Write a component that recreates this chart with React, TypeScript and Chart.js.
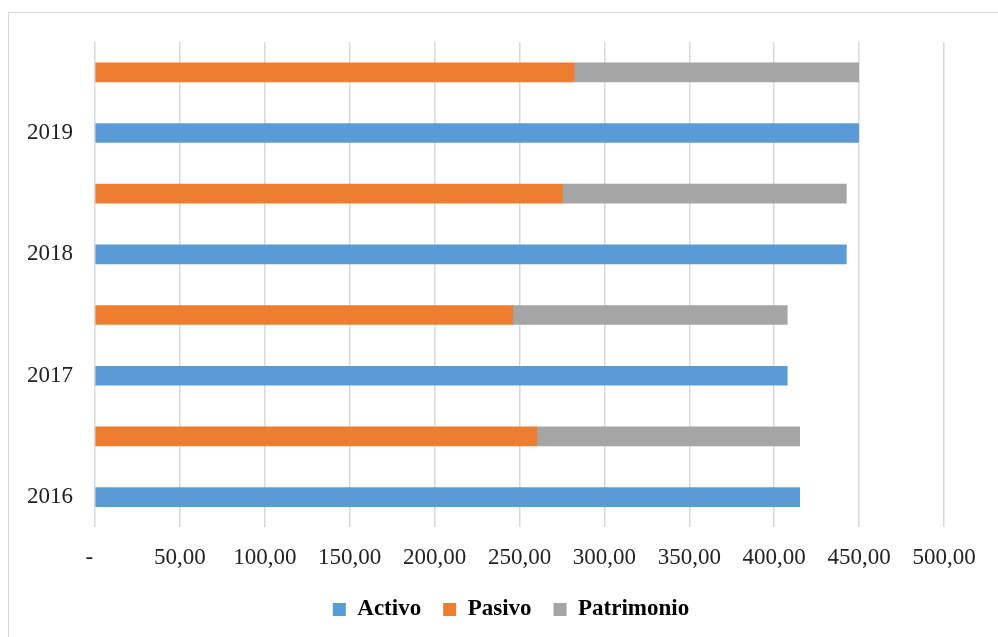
import React, { useEffect, useRef } from "react";
import { Chart, registerables } from "chart.js";

Chart.register(...registerables);

const years = ["2016", "2017", "2018", "2019"];
const activo = [415.0, 407.7, 442.5, 449.8];
const pasivo = [260.2, 246.0, 275.2, 282.2];
const patrimonio = [154.8, 161.7, 167.3, 167.6];
const xTicks = [0, 50, 100, 150, 200, 250, 300, 350, 400, 450, 500];

const BLUE = "#5B9BD5";
const ORANGE = "#ED7D31";
const GRAY = "#A5A5A5";

function buildRows() {
  const labels: string[] = [];
  const a: (number | null)[] = [];
  const p: (number | null)[] = [];
  const q: (number | null)[] = [];
  for (let i = years.length - 1; i >= 0; i--) {
    labels.push("");
    a.push(null);
    p.push(pasivo[i]);
    q.push(patrimonio[i]);
    labels.push(years[i]);
    a.push(activo[i]);
    p.push(null);
    q.push(null);
  }
  return { labels, a, p, q };
}

const legendShift = {
  id: "legendShift",
  afterLayout(chart: any) {
    const lg = chart.legend;
    if (lg) {
      lg.left += 35;
      lg.right += 35;
    }
  },
};

export default function App() {
  const ref = useRef<HTMLCanvasElement | null>(null);
  useEffect(() => {
    if (!ref.current) return;
    const rows = buildRows();
    const font = "'Liberation Serif', 'Times New Roman', serif";
    const chart = new Chart(ref.current, {
      type: "bar",
      data: {
        labels: rows.labels,
        datasets: [
          { label: "Activo", data: rows.a, backgroundColor: BLUE, barThickness: 19 },
          { label: "Pasivo", data: rows.p, backgroundColor: ORANGE, barThickness: 19 },
          { label: "Patrimonio", data: rows.q, backgroundColor: GRAY, barThickness: 19 },
        ],
      },
      options: {
        indexAxis: "y",
        animation: false,
        responsive: true,
        maintainAspectRatio: false,
        layout: { padding: { left: 8, top: 42, right: 54, bottom: 6 } },
        scales: {
          x: {
            stacked: true,
            min: 0,
            max: 500,
            afterBuildTicks: (scale: any) => {
              scale.ticks = xTicks.map((v) => ({ value: v }));
            },
            afterFit: (scale: any) => {
              scale.height = scale.height - 13;
            },
            grid: { color: "#d9d9d9", lineWidth: 1.5, drawTicks: false },
            border: { display: false },
            ticks: {
              padding: 17,
              color: "#222",
              font: { family: font, size: 23 },
              maxRotation: 0,
              autoSkip: false,
              callback: (v: any) =>
                Number(v) === 0 ? "-  " : Number(v).toFixed(2).replace(".", ","),
            },
          },
          y: {
            stacked: true,
            grid: { display: false, drawTicks: false },
            border: { display: false },
            afterFit: (scale: any) => {
              scale.width = 87;
            },
            ticks: {
              padding: 22,
              autoSkip: false,
              color: "#222",
              font: { family: font, size: 23 },
            },
          },
        },
        plugins: {
          tooltip: { enabled: false },
          legend: {
            position: "bottom",
            labels: {
              boxWidth: 13,
              boxHeight: 13,
              padding: 22,
              color: "#000",
              font: { family: font, size: 23, weight: "bold" },
            },
          },
        },
      },
      plugins: [legendShift],
    });
    return () => chart.destroy();
  }, []);

  return (
    <>
      <div
        style={{
          position: "absolute",
          left: 8,
          top: 12,
          width: 990,
          height: 625,
          borderLeft: "1.5px solid #d9d9d9",
          borderTop: "1.5px solid #d9d9d9",
          boxSizing: "border-box",
        }}
      />
      <div style={{ position: "absolute", left: 0, top: 0, width: 998, height: 637 }}>
        <canvas ref={ref} />
      </div>
    </>
  );
}
